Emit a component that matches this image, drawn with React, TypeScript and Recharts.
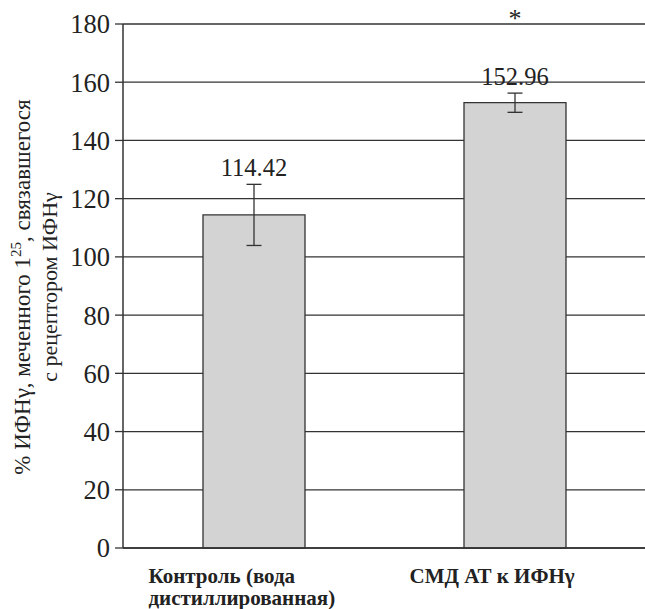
import { BarChart, Bar, XAxis, YAxis, CartesianGrid, ErrorBar, LabelList } from 'recharts';

const categories = ['Контроль (вода|дистиллированная)', 'СМД АТ к ИФНγ'];
const means = [114.42, 152.96];
const errors = [10.5, 3.3];
const marks = ['', '*'];
const yTicks = [0, 20, 40, 60, 80, 100, 120, 140, 160, 180];

const data = categories.map((name, i) => ({
  name,
  value: means[i],
  err: errors[i],
  mark: marks[i],
}));

const serif = 'Times New Roman';
const ink = '#222';

const XTick = (props: any) => {
  const { x, y, payload } = props;
  const lines = String(payload.value).split('|');
  return (
    <text x={x - 105} y={y + 27} fontFamily={serif} style={{ fontFamily: serif }} fontWeight="bold" fontSize={21} fill={ink} textAnchor="start">
      {lines.map((line, i) => (
        <tspan key={i} x={x - 105} dy={i === 0 ? 0 : 22}>{line}</tspan>
      ))}
    </text>
  );
};

const ValueLabel = (props: any) => {
  const { x, y, width, height, value, index } = props;
  const perUnit = height / value;
  const top = y - errors[index] * perUnit;
  return (
    <text x={x + width / 2} y={top - 8} textAnchor="middle" fontFamily={serif} style={{ fontFamily: serif }} fontSize={24.5} fill={ink}>
      {value.toFixed(2)}
    </text>
  );
};

const MarkLabel = (props: any) => {
  const { x, width, value } = props;
  if (!value) return null;
  return (
    <text x={x + width / 2} y={27} textAnchor="middle" fontFamily={serif} style={{ fontFamily: serif }} fontSize={26} fill={ink}>
      {value}
    </text>
  );
};

const YLabel = () => (
  <g>
    <text x={30} y={287} textAnchor="middle" fontFamily={serif} style={{ fontFamily: serif }} fontSize={23} fill={ink} transform="rotate(-90, 30, 287)">
      % ИФНγ, меченного 1<tspan dy={-9} fontSize={15}>25</tspan><tspan dy={9}>, связавшегося</tspan>
    </text>
    <text x={57} y={287} textAnchor="middle" fontFamily={serif} style={{ fontFamily: serif }} fontSize={22} fill={ink} transform="rotate(-90, 57, 287)">
      с рецептором ИФНγ
    </text>
  </g>
);

export default function App() {
  return (
    <div style={{ position: 'absolute', left: 0, top: 0, background: '#fff', fontFamily: serif }}>
      <BarChart width={645} height={609} data={data} margin={{ top: 24, right: 0, bottom: 0, left: 0 }} style={{ fontFamily: serif }}>
        <CartesianGrid vertical={false} stroke="#333" strokeWidth={1.3} />
        <XAxis
          xAxisId="sep"
          type="number"
          domain={[0, 2]}
          ticks={[1]}
          tick={false}
          tickSize={8}
          tickLine={{ stroke: '#333', strokeWidth: 1.3 }}
          axisLine={false}
          height={1}
        />
        <XAxis
          dataKey="name"
          tickLine={false}
          axisLine={{ stroke: '#333', strokeWidth: 1.5 }}
          tick={<XTick />}
          interval={0}
          height={60}
        />
        <YAxis
          width={123}
          domain={[0, 180]}
          ticks={yTicks}
          interval={0}
          tickSize={8}
          tickMargin={5}
          tick={{ fontFamily: serif, fontSize: 26.5, fill: ink, style: { fontFamily: serif } }}
          tickLine={{ stroke: '#333', strokeWidth: 1.3 }}
          axisLine={{ stroke: '#333', strokeWidth: 1.5 }}
          label={<YLabel />}
        />
        <Bar dataKey="value" fill="#d3d3d3" stroke="#333" strokeWidth={1.3} barSize={102} isAnimationActive={false}>
          <ErrorBar dataKey="err" width={7.5} stroke="#333" strokeWidth={1.3} />
          <LabelList dataKey="value" content={<ValueLabel />} />
          <LabelList dataKey="mark" content={<MarkLabel />} />
        </Bar>
      </BarChart>
    </div>
  );
}
